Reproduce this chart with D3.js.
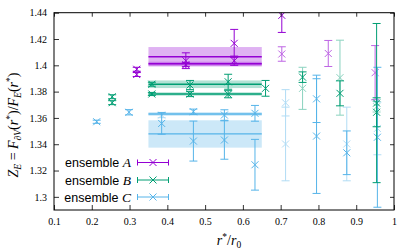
<!DOCTYPE html>
<html><head><meta charset="utf-8">
<script src="https://cdn.jsdelivr.net/npm/d3@7"></script>
<style>body{margin:0;background:#fff}svg{display:block}</style>
</head><body>
<svg id="c" width="415" height="249"></svg>
<script>
// ---------- data ----------
const xTicks = [0.1,0.2,0.3,0.4,0.5,0.6,0.7,0.8,0.9,1];
const yTicks = [1.3,1.32,1.34,1.36,1.38,1.4,1.42,1.44];
const seriesNames = ["A","B","C"];
// [r*/r0, Z_E, error]
const ensA = [[0.319,1.397,0.0015],[0.319,1.393,0.0015],[0.449,1.4035,0.006],[0.449,1.4005,0.0015],
  [0.577,1.4167,0.0106],[0.577,1.4035,0.0035],[0.703,1.438,0.013]];
const ensAFaint = [[0.703,1.4086,0.0055],[0.826,1.409,0.0099],[0.950,1.3944,0.0206]];
const ensB = [[0.254,1.3761,0.0015],[0.254,1.3716,0.0015],[0.359,1.3856,0.0015],[0.359,1.3782,0.0012],
  [0.460,1.385,0.0035],[0.460,1.3782,0.002],[0.561,1.3875,0.0057],[0.561,1.378,0.0027],
  [0.660,1.3825,0.006],[0.758,1.391,0.004],[0.857,1.3787,0.0095],[0.954,1.3713,0.0605],[0.954,1.3643,0.011]];
const ensBFaint = [[0.758,1.3825,0.016],[0.857,1.3906,0.0285],[0.954,1.3685,0.004]];
const ensC = [[0.213,1.3571,0.0012],[0.2985,1.3643,0.002],[0.385,1.3558,0.0082],[0.469,1.3647,0.002],
  [0.469,1.3424,0.0152],[0.551,1.3622,0.004],[0.551,1.3432,0.0146],[0.632,1.3635,0.006],
  [0.632,1.3244,0.0193],[0.795,1.3745,0.018],[0.795,1.3462,0.0436],[0.875,1.3335,0.0166],[0.956,1.3453,0.0532]];
const ensCFaint = [[0.385,1.3622,0.002],[0.713,1.3715,0.010],[0.713,1.3402,0.028],[0.875,1.3402,0.028],[0.956,1.352,0.02]];
// plateau fits: [centre, half-width], over r*/r0 range bandRange
const bandRange = [0.35,0.65];
const bandA = [[1.4065,0.0074],[1.4012,0.0015]];
const bandB = [[1.3856,0.0029],[1.3782,0.0013]];
const bandC = [[1.363,0.0014],[1.3478,0.0104]];

// ---------- chart ----------
const colors = {A:"#9400d3", B:"#009e73", C:"#56b4e9"};
const svg = d3.select("#c");
const L=54, R=394, T=12.7, B=210;
const x = d3.scaleLinear().domain([0.1,1]).range([L,R]);
const y = d3.scaleLinear().domain([1.29,1.44]).range([B,T]);

svg.append("clipPath").attr("id","clip").append("rect")
  .attr("x",L).attr("y",T).attr("width",R-L).attr("height",B-T);
const plot = svg.append("g").attr("clip-path","url(#clip)");

function drawBands(bands, col){
  bands.forEach(([c,h])=>{
    plot.append("rect").attr("x",x(bandRange[0])).attr("width",x(bandRange[1])-x(bandRange[0]))
      .attr("y",y(c+h)).attr("height",y(c-h)-y(c+h)).attr("fill",col).attr("opacity",0.3);
    plot.append("line").attr("x1",x(bandRange[0])).attr("x2",x(bandRange[1]))
      .attr("y1",y(c)).attr("y2",y(c)).attr("stroke",col).attr("stroke-width",1.3);
  });
}
drawBands(bandA, colors.A); drawBands(bandB, colors.B); drawBands(bandC, colors.C);

function drawPoints(data, col, op){
  const g = plot.append("g").attr("stroke",col).attr("fill","none").attr("stroke-width",1).attr("opacity",op);
  data.forEach(([xv,yv,e])=>{
    const px=x(xv), py=y(yv), y1=y(yv+e), y2=y(yv-e), cw=4, m=3.5;
    g.append("path").attr("d",
      `M${px},${y1}V${y2}M${px-cw},${y1}H${px+cw}M${px-cw},${y2}H${px+cw}`+
      `M${px-m},${py-m}L${px+m},${py+m}M${px-m},${py+m}L${px+m},${py-m}`);
  });
}
drawPoints(ensCFaint, colors.C, 0.45);
drawPoints(ensBFaint, colors.B, 0.45);
drawPoints(ensAFaint, colors.A, 0.6);
drawPoints(ensC, colors.C, 1);
drawPoints(ensB, colors.B, 1);
drawPoints(ensA, colors.A, 1);

// axes
const fmt = d=> String(+d.toFixed(2));
const ax = svg.append("g").attr("font-family","'Liberation Serif',serif").attr("font-size",12.5);
ax.append("g").attr("transform",`translate(${L},0)`)
  .call(d3.axisLeft(y).tickValues(yTicks).tickFormat(fmt).tickSizeInner(-5).tickSizeOuter(0).tickPadding(7));
ax.append("g").attr("transform",`translate(0,${B})`)
  .call(d3.axisBottom(x).tickValues(xTicks).tickFormat(fmt).tickSizeInner(-5).tickSizeOuter(0).tickPadding(8));
ax.append("g").attr("transform",`translate(${R},0)`)
  .call(d3.axisRight(y).tickValues(yTicks).tickFormat("").tickSizeInner(-4).tickSizeOuter(0));
ax.append("g").attr("transform",`translate(0,${T})`)
  .call(d3.axisTop(x).tickValues(xTicks).tickFormat("").tickSizeInner(-4).tickSizeOuter(0));
ax.selectAll(".domain").remove();
ax.selectAll("text").attr("fill","#000").attr("font-family","'Liberation Serif',serif");
ax.selectAll(".tick line").attr("stroke","#333");
svg.append("rect").attr("x",L).attr("y",T).attr("width",R-L).attr("height",B-T)
  .attr("fill","none").attr("stroke","#000").attr("stroke-width",1);

// legend
const legRows=[162.5,180,197];
seriesNames.forEach((n,i)=>{
  const ly=legRows[i], col=colors[n];
  const t = svg.append("text").attr("x",131).attr("y",ly+4.5).attr("text-anchor","end")
    .attr("font-family","'Liberation Sans',sans-serif").attr("font-size",12.5);
  t.append("tspan").text("ensemble ");
  t.append("tspan").attr("font-family","'Liberation Serif',serif").attr("font-style","italic").attr("font-size",13.5).text(n);
  const x1=137.5, x2=168.5, xm=153;
  svg.append("path").attr("stroke",col).attr("fill","none").attr("stroke-width",1)
    .attr("d",`M${x1},${ly}H${x2}M${x1},${ly-3}V${ly+3}M${x2},${ly-3}V${ly+3}M${xm-3.5},${ly-3.5}L${xm+3.5},${ly+3.5}M${xm-3.5},${ly+3.5}L${xm+3.5},${ly-3.5}`);
});

// axis titles
const yl = svg.append("text").attr("transform","translate(18,125) rotate(-90)").attr("text-anchor","middle")
  .attr("font-family","'Liberation Serif',serif").attr("font-size",14).attr("font-style","italic");
yl.append("tspan").text("Z");
yl.append("tspan").attr("font-size",9.5).attr("dy",3).text("E");
yl.append("tspan").attr("dy",-3).attr("font-style","normal").text(" = ");
yl.append("tspan").text("F");
yl.append("tspan").attr("font-size",9.5).attr("dy",3).text("∂V");
yl.append("tspan").attr("dy",-3).attr("font-style","normal").text("(");
yl.append("tspan").text("r");
yl.append("tspan").attr("font-style","normal").attr("font-size",9.5).attr("dy",-5).text("*");
yl.append("tspan").attr("dy",5).attr("font-style","normal").text(")/");
yl.append("tspan").text("F");
yl.append("tspan").attr("font-size",9.5).attr("dy",3).text("E");
yl.append("tspan").attr("dy",-3).attr("font-style","normal").text("(");
yl.append("tspan").text("r");
yl.append("tspan").attr("font-style","normal").attr("font-size",9.5).attr("dy",-5).text("*");
yl.append("tspan").attr("dy",5).attr("font-style","normal").text(")");

const xl = svg.append("text").attr("x",229).attr("y",245).attr("text-anchor","middle")
  .attr("font-family","'Liberation Serif',serif").attr("font-size",14).attr("font-style","italic");
xl.append("tspan").text("r");
xl.append("tspan").attr("font-style","normal").attr("font-size",9.5).attr("dy",-5).text("*");
xl.append("tspan").attr("dy",5).attr("font-style","normal").text("/");
xl.append("tspan").text("r");
xl.append("tspan").attr("font-style","normal").attr("font-size",9.5).attr("dy",3).text("0");
</script>
</body></html>
